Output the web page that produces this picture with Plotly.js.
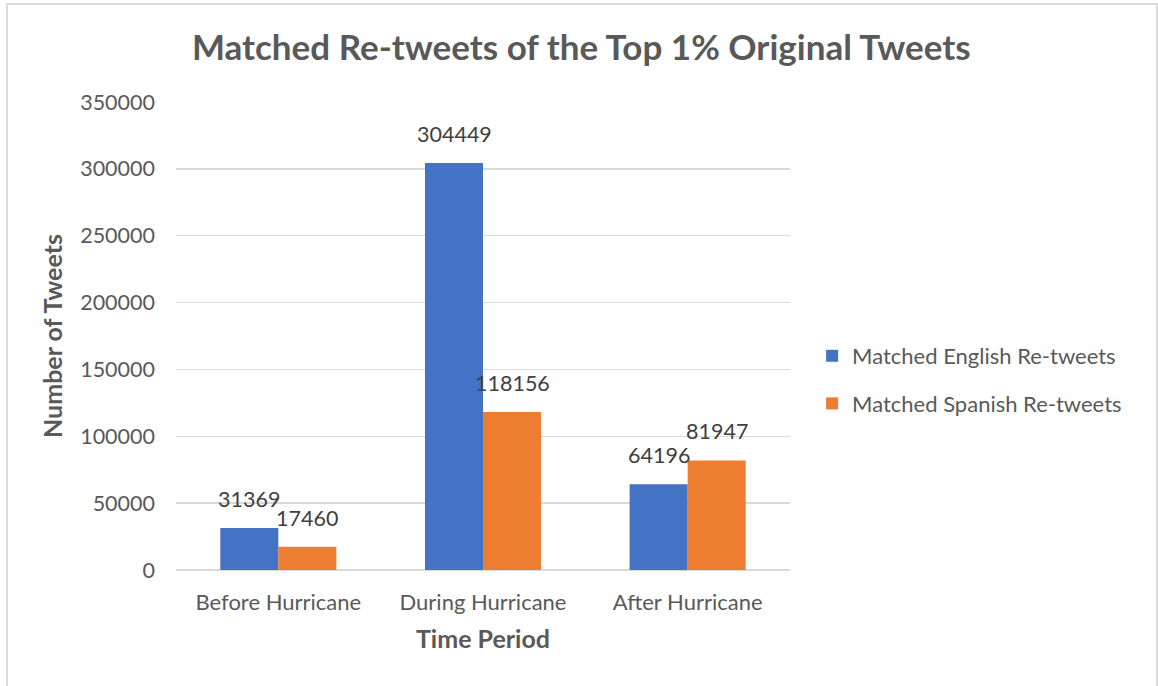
<!DOCTYPE html>
<html>
<head>
<meta charset="utf-8">
<script src="https://cdn.plot.ly/plotly-3.0.1.min.js"></script>
<style>
  html, body { margin: 0; padding: 0; background: #ffffff; }
  #wrap { position: relative; width: 1158px; height: 686px; overflow: hidden; }
  #chart { position: absolute; left: 0; top: 0; width: 1158px; height: 686px; }
  #frame { position: absolute; left: 6px; top: 3px; width: 1148px; height: 700px; border: 2px solid #dcdcdc; pointer-events: none; }
</style>
</head>
<body>
<div id="wrap">
  <div id="chart"></div>
  <div id="frame"></div>
</div>
<script>
const categories = ["Before Hurricane", "During Hurricane", "After Hurricane"];
const englishName = "Matched English Re-tweets";
const spanishName = "Matched Spanish Re-tweets";
const englishValues = [31369, 304449, 64196];
const spanishValues = [17460, 118156, 81947];
const yTicks = [0, 50000, 100000, 150000, 200000, 250000, 300000, 350000];

const FONT = "Lato, 'Open Sans', sans-serif";
const TXT = "#595959";

const traces = [
  { type: "bar", name: englishName, x: categories, y: englishValues,
    marker: { color: "#4472C4" }, legendgroup: "a", hoverinfo: "y" },
  { type: "bar", name: spanishName, x: categories, y: spanishValues,
    marker: { color: "#ED7D31" }, legendgroup: "b", hoverinfo: "y" }
];

const annotations = [];
categories.forEach((c, i) => {
  annotations.push({ x: c, y: englishValues[i], xref: "x", yref: "y", xshift: -29, yshift: 14,
    text: String(englishValues[i]), showarrow: false, yanchor: "bottom",
    font: { family: FONT, size: 21.5, color: "#404040" } });
  annotations.push({ x: c, y: spanishValues[i], xref: "x", yref: "y", xshift: 29, yshift: 14,
    text: String(spanishValues[i]), showarrow: false, yanchor: "bottom",
    font: { family: FONT, size: 21.5, color: "#404040" } });
});

const layout = {
  width: 1158, height: 686,
  paper_bgcolor: "#ffffff", plot_bgcolor: "#ffffff",
  margin: { l: 176, r: 368, t: 102, b: 116, pad: 0 },
  font: { family: FONT, color: TXT, size: 22 },
  title: { text: "<b>Matched Re-tweets of the Top 1% Original Tweets</b>",
           font: { family: FONT, size: 35, color: TXT },
           x: 0.502, xref: "container", xanchor: "center", y: 0.93, yref: "container", yanchor: "middle",
           automargin: false },
  barmode: "group", bargap: 0.433, bargroupgap: 0,
  xaxis: {
    type: "category", showgrid: false, zeroline: false, showline: false,
    ticks: "", tickfont: { family: FONT, size: 22, color: TXT }, ticklabelstandoff: 17,
    title: { text: "<b>Time Period</b>", font: { family: FONT, size: 25, color: TXT }, standoff: 16 },
    fixedrange: true
  },
  yaxis: {
    range: [0, 350000], tickvals: yTicks, ticktext: yTicks.map(String),
    showgrid: true, gridcolor: "#d9d9d9", gridwidth: 1.3,
    zeroline: true, zerolinecolor: "#d9d9d9", zerolinewidth: 1.3,
    showline: false, ticks: "", ticklabelstandoff: 20,
    tickfont: { family: FONT, size: 21.5, color: TXT },
    title: { text: "<b>Number of Tweets</b>", font: { family: FONT, size: 25, color: TXT }, standoff: 10 },
    fixedrange: true
  },
  legend: {
    x: 1.036, xanchor: "left", y: 0.406, yanchor: "middle",
    font: { family: FONT, size: 22, color: TXT },
    traceorder: "grouped", tracegroupgap: 16, itemwidth: 30,
    bgcolor: "rgba(0,0,0,0)"
  },
  annotations: annotations,
  showlegend: true
};

Plotly.newPlot("chart", traces, layout, { displayModeBar: false, staticPlot: true });
</script>
</body>
</html>
